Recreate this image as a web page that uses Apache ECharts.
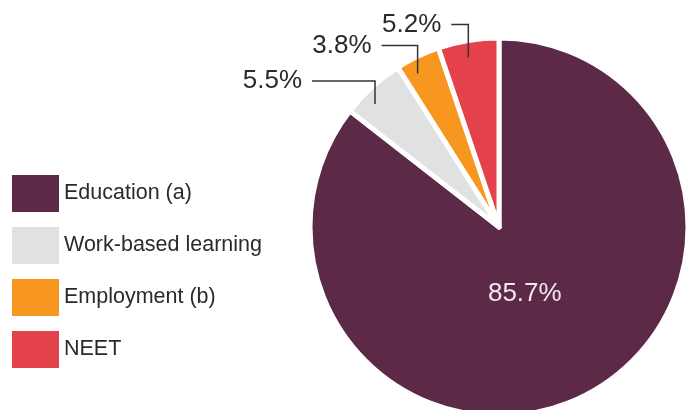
<!DOCTYPE html>
<html>
<head>
<meta charset="utf-8">
<script src="https://cdn.jsdelivr.net/npm/echarts@6/dist/echarts.min.js"></script>
<style>html,body{margin:0;padding:0;background:#fff}#c{width:688px;height:410px}</style>
</head>
<body>
<div id="c"></div>
<script>
const categories = ['Education (a)', 'Work-based learning', 'Employment (b)', 'NEET'];
const values = [85.7, 5.5, 3.8, 5.2];
const colors = ['#5c2a47', '#e0e1e3', '#f7971f', '#e3424a'];

// leader-line geometry per slice (rise above slice edge, horizontal run, x nudge)
const leader = [null, {rise: 6, run: 63, dx: 3}, {rise: 11, run: 36, dx: 0}, {rise: 16, run: 17, dx: 0}];
const FONT = '"Liberation Sans", Arial, Helvetica, sans-serif';
const CENTER = [499, 227];
const RADIUS = 189;

const chart = echarts.init(document.getElementById('c'), null, {renderer: 'canvas'});
chart.setOption({
  animation: false,
  color: colors,
  legend: {
    orient: 'vertical',
    left: 12,
    top: 175,
    padding: 0,
    itemWidth: 47,
    itemHeight: 37,
    itemGap: 15,
    icon: 'rect',
    selectedMode: false,
    itemStyle: {borderWidth: 0},
    textStyle: {fontSize: 21.5, color: '#2a2a2a', fontFamily: FONT},
    data: categories
  },
  series: [{
    type: 'pie',
    z: 2,
    center: CENTER,
    radius: RADIUS,
    startAngle: 90,
    clockwise: true,
    avoidLabelOverlap: false,
    emphasis: {disabled: true},
    itemStyle: {borderColor: '#fff', borderWidth: 5},
    label: {
      show: true,
      position: 'inside',
      fontSize: 26,
      fontFamily: FONT,
      color: '#f2e8ee',
      formatter: p => p.dataIndex === 0 ? p.value.toFixed(1) + '%' : ''
    },
    labelLine: {show: false},
    labelLayout: function (params) {
      if (params.dataIndex === 0) return {dx: -17, dy: -21};
      return {};
    },
    data: categories.map((n, i) => ({name: n, value: values[i]}))
  }, {
    // overlay series carrying the outside labels so the leader lines sit above the slices
    type: 'pie',
    z: 5,
    silent: true,
    legendHoverLink: false,
    center: CENTER,
    radius: RADIUS,
    startAngle: 90,
    clockwise: true,
    avoidLabelOverlap: false,
    emphasis: {disabled: true},
    itemStyle: {color: 'rgba(0,0,0,0)', borderWidth: 0},
    label: {
      show: true,
      position: 'outside',
      fontSize: 26,
      fontFamily: FONT,
      color: '#2a2a2a',
      formatter: p => p.value.toFixed(1) + '%'
    },
    labelLine: {show: true, length: 10, length2: 10, lineStyle: {color: '#333', width: 1.5}},
    labelLayout: function (params) {
      const i = params.dataIndex;
      const lp = params.labelLinePoints;
      if (!lp || !leader[i]) return {};
      const cfg = leader[i];
      const px = lp[0][0] + cfg.dx;
      const py = lp[0][1];
      const ly = py - cfg.rise;
      const xEnd = px - cfg.run;
      return {
        x: xEnd - 10,
        y: ly,
        align: 'right',
        verticalAlign: 'middle',
        labelLinePoints: [[px, py + 17], [px, ly], [xEnd, ly]]
      };
    },
    data: categories.map((n, i) => i === 0 ? {
      name: n, value: values[i],
      label: {show: false},
      labelLine: {show: false}
    } : {name: n, value: values[i]})
  }]
});
</script>
</body>
</html>
